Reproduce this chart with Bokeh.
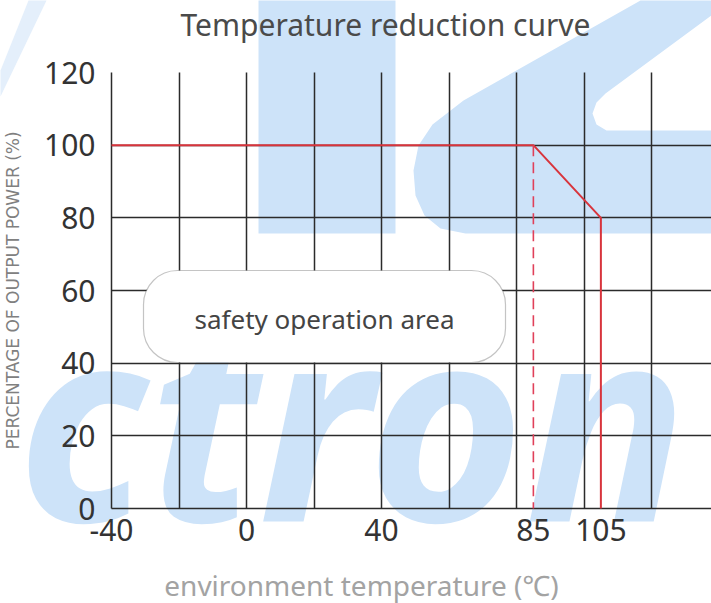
from bokeh.plotting import figure
from bokeh.models import Range1d, FixedTicker, BoxAnnotation
from bokeh.core.properties import value
from bokeh.embed import file_html
from bokeh.resources import INLINE

# ---- data ----
curve_temp = [-40, 85, 105, 105]          # derating curve (°C)
curve_power = [100, 100, 80, 0]           # % of output power
derate_temp = [85, 85]                    # dashed marker at derating start
derate_power = [100, 0]
x_tick_values = [-40, 0, 40, 85, 105]
y_tick_values = [0, 20, 40, 60, 80, 100, 120]
x_grid_values = [-40, -20, 0, 20, 40, 60, 80, 100, 120, 140]

TITLE = "Temperature reduction curve"
X_LABEL = "environment temperature (\u2103)"
Y_LABEL = "PERCENTAGE OF OUTPUT POWER (%)"
AREA_LABEL = "safety operation area"

# ---- layout helpers (canvas pixel -> data) ----
W, H = 711, 603
FL, FR, FT, FB = 111, 711, 72, 508
def dx(px):
    return -40 + (px - FL) / 3.375
def dy(py):
    return (FB - py) * 120.0 / (FB - FT)
def sy(yv):
    return FB - yv * (FB - FT) / 120.0

p = figure(width=W, height=H, title=None,
           x_range=Range1d(-40, dx(FR)), y_range=Range1d(0, 120),
           output_backend="svg", toolbar_location=None,
           min_border_left=FL, min_border_top=FT,
           min_border_bottom=H - FB, min_border_right=0,
           background_fill_color="white", border_fill_color="white",
           outline_line_color=None)

# ---- watermark (decoration, drawn under the grid) ----
WM = "#cde3f9"
def wm_patch(pts, color=WM):
    p.patch([dx(a) for a, b in pts], [dy(b) for a, b in pts],
            fill_color=color, line_color=None, level="guide")
wm_patch([(258, 0), (395, 0), (395, 233), (258, 233)])
wm_patch([(640, 0), (711, 0), (711, 15), (605, 93), (596, 102), (592, 113),
          (596, 124), (606, 130), (711, 130), (711, 233), (465, 233),
          (440, 228), (424, 215), (415, 195), (413, 170), (418, 145),
          (432, 124), (463, 100)])
wm_patch([(0, 70), (28, 0), (46, 0), (0, 96)], color="#e4effb")
p.text(x=[dx(352)], y=[dy(416)], text=["ctron"], text_font=value("Noto Sans"),
       text_font_size="270px", text_font_style="bold italic", text_color=WM,
       text_align="center", text_baseline="middle", level="guide")

# ---- axes & grid ----
for ax in (p.xaxis, p.yaxis):
    ax.axis_line_color = "#2b2b2b"
    ax.axis_line_width = 1.5
    ax.major_tick_line_color = None
    ax.minor_tick_line_color = None
    ax.major_label_text_font = "Noto Sans"
    ax.major_label_text_font_size = "30px"
    ax.major_label_text_color = "#333333"
p.xaxis.ticker = FixedTicker(ticks=x_tick_values)
p.xaxis.major_label_overrides = {v: str(v) for v in x_tick_values}
p.yaxis.ticker = FixedTicker(ticks=y_tick_values)
p.xaxis.major_label_standoff = 4
p.yaxis.major_label_standoff = 10
p.yaxis.axis_label = Y_LABEL
p.yaxis.axis_label_text_font = "DejaVu Sans"
p.yaxis.axis_label_text_font_size = "17px"
p.yaxis.axis_label_text_font_style = "normal"
p.yaxis.axis_label_text_color = "#808080"
p.yaxis.axis_label_standoff = 18

p.xgrid.ticker = FixedTicker(ticks=x_grid_values)
p.ygrid.ticker = FixedTicker(ticks=y_tick_values)
p.grid.grid_line_color = "#2b2b2b"
p.grid.grid_line_width = 1.5
p.grid.grid_line_alpha = 1.0
p.grid.level = "guide"

# ---- curves ----
p.line(curve_temp, curve_power, line_color="#d8343c", line_width=2, level="annotation")
p.line(derate_temp, derate_power, line_color="#e0405a", line_width=1.6,
       line_dash="11 6", level="annotation")

# ---- rounded label box ----
p.add_layout(BoxAnnotation(left=dx(143), right=dx(505), bottom=dy(362), top=dy(270),
                           fill_color="white", fill_alpha=1.0, line_color="#3a3a3a",
                           line_width=1.2, border_radius=34))
p.text(x=[dx(324)], y=[dy(318)], text=[AREA_LABEL], text_align="center",
       text_baseline="middle", text_font=value("Noto Sans"), text_font_size="26px",
       text_color="#444444", level="overlay")

# ---- title & x label (anchored inside the range, shifted out in pixels) ----
p.text(x=[dx(385)], y=[118], text=[TITLE], y_offset=24 - sy(118),
       text_align="center", text_baseline="middle", text_font=value("Noto Sans"),
       text_font_size="30px", text_color="#4a4a4a", level="annotation")
p.text(x=[dx(361)], y=[1], text=[X_LABEL], y_offset=584 - sy(1),
       text_align="center", text_baseline="middle", text_font=value("Noto Sans"),
       text_font_size="28px", text_color="#a3a3a3", level="annotation")

open("out.html", "w").write(file_html(p, INLINE))
